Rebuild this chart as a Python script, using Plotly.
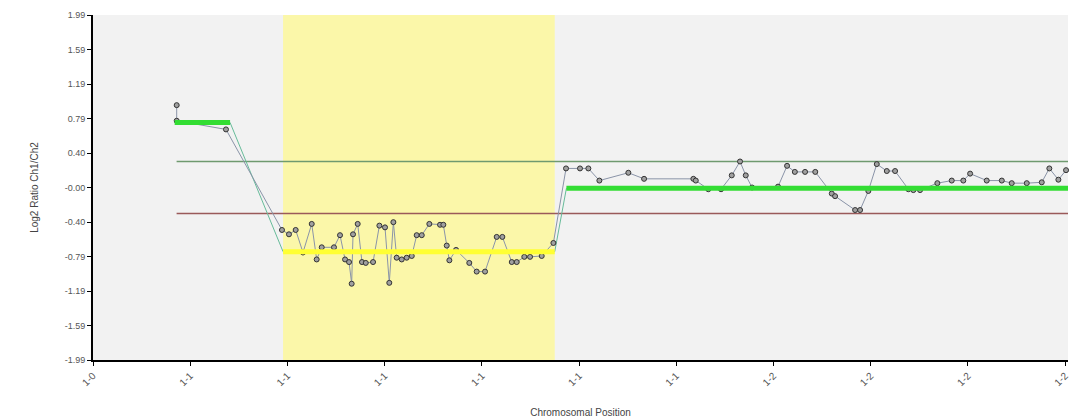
import plotly.graph_objects as go

# ---- data ----
tick_pos = [0, 1, 2, 3, 4, 5, 6, 7, 8, 9, 10]
tick_labels = ["1-0", "1-1", "1-1", "1-1", "1-1", "1-1", "1-1", "1-2", "1-2", "1-2", "1-2"]
y_tick_vals = [1.99, 1.592, 1.194, 0.796, 0.398, 0.0, -0.398, -0.796, -1.194, -1.592, -1.99]
y_tick_labels = ["1.99", "1.59", "1.19", "0.79", "0.40", "-0.00", "-0.40", "-0.79", "-1.19", "-1.59", "-1.99"]

pos = [0.861, 0.861, 1.368,
       1.944, 2.016, 2.085, 2.160, 2.250, 2.301, 2.353, 2.479, 2.541, 2.593, 2.634, 2.661, 2.675,
       2.723, 2.767, 2.806, 2.881, 2.946, 3.004, 3.048, 3.090, 3.124, 3.176, 3.227, 3.279, 3.330,
       3.382, 3.460, 3.570, 3.604, 3.639, 3.666, 3.735, 3.871, 3.947, 4.033, 4.153, 4.211, 4.308,
       4.359, 4.437, 4.496, 4.616, 4.736,
       4.866, 5.010, 5.096, 5.209, 5.507, 5.669, 6.176, 6.201, 6.330, 6.461, 6.571, 6.656, 6.715,
       6.780, 7.047, 7.140, 7.220, 7.325, 7.430, 7.600, 7.634, 7.840, 7.891, 7.976, 8.063, 8.166,
       8.251, 8.388, 8.439, 8.508, 8.686, 8.834, 8.953, 9.023, 9.194, 9.349, 9.451, 9.606, 9.760,
       9.838, 9.931, 10.010]
ratio = [0.95, 0.77, 0.67,
         -0.49, -0.54, -0.49, -0.75, -0.42, -0.83, -0.69, -0.69, -0.55, -0.83, -0.86, -1.11, -0.54,
         -0.42, -0.86, -0.87, -0.86, -0.44, -0.46, -1.10, -0.40, -0.81, -0.83, -0.81, -0.79, -0.55,
         -0.55, -0.42, -0.43, -0.43, -0.67, -0.84, -0.72, -0.87, -0.97, -0.97, -0.57, -0.57, -0.86,
         -0.86, -0.80, -0.80, -0.79, -0.64,
         0.22, 0.22, 0.22, 0.08, 0.17, 0.10, 0.10, 0.08, -0.02, -0.02, 0.14, 0.30, 0.14,
         0.00, 0.01, 0.25, 0.18, 0.18, 0.18, -0.07, -0.10, -0.26, -0.26, -0.04, 0.27, 0.19,
         0.19, -0.02, -0.03, -0.03, 0.05, 0.08, 0.08, 0.16, 0.08, 0.08, 0.05, 0.05, 0.06,
         0.22, 0.09, 0.20]

# segments: (start, end, mean)
seg_start = [0.84, 1.955, 4.87]
seg_end = [1.41, 4.75, 10.03]
seg_mean = [0.75, -0.74, -0.01]
seg_color = ["#33dd33", "#ffff33", "#33dd33"]

gain_threshold = 0.30
loss_threshold = -0.30
thr_start = 0.86
aberration_region = (1.955, 4.75)
x_max = 10.03

fig = go.Figure()

# aberration band
fig.add_shape(type="rect", xref="x", yref="paper",
              x0=aberration_region[0], x1=aberration_region[1], y0=0, y1=1,
              fillcolor="#fbf7a9", line_width=0, layer="below")

# thresholds
fig.add_trace(go.Scatter(x=[thr_start, x_max], y=[gain_threshold, gain_threshold], mode="lines",
                         line=dict(color="#6f9a6f", width=1.5), hoverinfo="skip", showlegend=False))
fig.add_trace(go.Scatter(x=[thr_start, x_max], y=[loss_threshold, loss_threshold], mode="lines",
                         line=dict(color="#9a5a5a", width=1.5), hoverinfo="skip", showlegend=False))

# segment connectors
cx, cy = [], []
for i in range(len(seg_start)):
    cx += [seg_start[i], seg_end[i]]
    cy += [seg_mean[i], seg_mean[i]]
fig.add_trace(go.Scatter(x=cx, y=cy, mode="lines", line=dict(color="#66bb99", width=1),
                         hoverinfo="skip", showlegend=False))

# data line
fig.add_trace(go.Scatter(x=pos, y=ratio, mode="lines+markers",
                         line=dict(color="#8a94a8", width=1),
                         marker=dict(size=5, color="#a0a0a0", line=dict(color="#333333", width=1)),
                         cliponaxis=False, showlegend=False))

# thick segments
for s, e, m, c in zip(seg_start, seg_end, seg_mean, seg_color):
    fig.add_trace(go.Scatter(x=[s, e], y=[m, m], mode="lines", line=dict(color=c, width=5),
                             hoverinfo="skip", showlegend=False))

fig.update_layout(
    width=1071, height=420,
    margin=dict(l=93, r=3, t=15, b=60, autoexpand=False),
    paper_bgcolor="white", plot_bgcolor="#f2f2f2",
    font=dict(family="Liberation Sans, Arial, sans-serif", size=9, color="#555555"),
    showlegend=False,
)
fig.update_xaxes(range=[0, x_max], tickvals=tick_pos, ticktext=tick_labels, tickangle=-45,
                 tickfont=dict(size=10, color="#555555"),
                 showgrid=False, zeroline=False, showline=True, linecolor="black", linewidth=2,
                 ticks="outside", ticklen=4, tickcolor="black", automargin=False,
                 title=dict(text="Chromosomal Position", font=dict(size=10, color="#444444"), standoff=22))
fig.update_yaxes(range=[-1.99, 1.99], tickvals=y_tick_vals, ticktext=y_tick_labels,
                 tickfont=dict(size=9, color="#555555"),
                 showgrid=False, zeroline=False, showline=True, linecolor="black", linewidth=2,
                 ticks="outside", ticklen=4, tickcolor="black", automargin=False,
                 title=dict(text="Log2 Ratio Ch1/Ch2", font=dict(size=10, color="#444444"), standoff=24))

fig.write_html("out.html", config={"displayModeBar": False},
               post_script="document.body.style.margin='0';document.body.style.overflow='hidden';")
